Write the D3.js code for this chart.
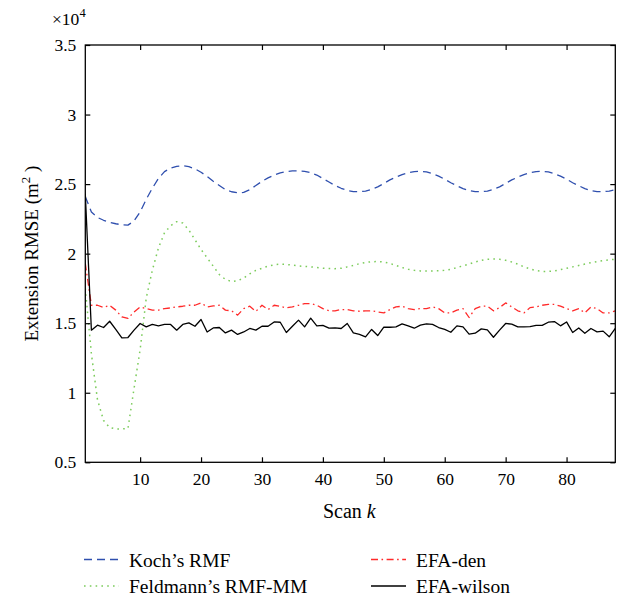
<!DOCTYPE html>
<html>
<head>
<meta charset="utf-8">
<script src="https://cdn.jsdelivr.net/npm/d3@7"></script>
<style>
  html, body { margin: 0; padding: 0; background: #fff; }
  svg { display: block; }
  svg text { font-family: "Liberation Serif", "Times New Roman", Times, "DejaVu Serif", serif !important; fill: #000; }
</style>
</head>
<body>
<svg id="chart" width="618" height="599"></svg>
<script>
// Extension RMSE (in units of 10^4 m^2) per scan k = 1..88
const koch = [2.41,2.30,2.26,2.24,2.225,2.215,2.207,2.205,2.235,2.30,
  2.39,2.47,2.54,2.59,2.615,2.628,2.632,2.625,2.61,2.585,
  2.555,2.52,2.49,2.46,2.445,2.437,2.44,2.46,2.49,2.52,
  2.545,2.565,2.58,2.59,2.595,2.595,2.592,2.582,2.565,2.54,
  2.515,2.49,2.47,2.455,2.446,2.445,2.45,2.462,2.48,2.505,
  2.53,2.55,2.568,2.582,2.59,2.592,2.588,2.575,2.557,2.535,
  2.51,2.488,2.468,2.453,2.446,2.445,2.45,2.462,2.48,2.505,
  2.53,2.55,2.568,2.582,2.59,2.592,2.588,2.575,2.557,2.535,
  2.51,2.488,2.468,2.453,2.446,2.445,2.45,2.46];

const feldmann = [1.75,1.28,0.95,0.80,0.75,0.74,0.74,0.742,1.03,1.31,
  1.68,1.88,2.04,2.15,2.2,2.23,2.22,2.17,2.1,2.03,
  1.97,1.91,1.85,1.815,1.8,1.805,1.825,1.855,1.88,1.895,
  1.91,1.92,1.925,1.922,1.918,1.912,1.908,1.905,1.9,1.895,
  1.893,1.892,1.895,1.905,1.915,1.928,1.937,1.942,1.943,1.94,
  1.93,1.915,1.9,1.888,1.88,1.876,1.875,1.876,1.877,1.88,
  1.888,1.9,1.912,1.925,1.94,1.952,1.96,1.962,1.96,1.952,
  1.94,1.925,1.905,1.89,1.878,1.872,1.872,1.876,1.885,1.895,
  1.905,1.915,1.925,1.935,1.943,1.95,1.955,1.96];

const efaDen = [1.93,1.629,1.629,1.613,1.629,1.594,1.545,1.534,1.581,1.617,
  1.605,1.594,1.594,1.605,1.61,1.617,1.622,1.629,1.629,1.646,
  1.617,1.624,1.629,1.594,1.589,1.558,1.605,1.622,1.585,1.629,
  1.598,1.629,1.622,1.61,1.617,1.629,1.641,1.641,1.629,1.605,
  1.589,1.589,1.598,1.598,1.589,1.586,1.589,1.589,1.581,1.574,
  1.598,1.617,1.622,1.605,1.598,1.605,1.605,1.617,1.605,1.574,
  1.574,1.594,1.605,1.541,1.605,1.622,1.624,1.589,1.612,1.646,
  1.617,1.589,1.574,1.612,1.617,1.629,1.636,1.636,1.622,1.605,
  1.589,1.605,1.574,1.617,1.605,1.574,1.574,1.589];

const efaWilson = [2.43,1.45,1.486,1.469,1.514,1.455,1.394,1.397,1.45,1.498,
  1.474,1.491,1.481,1.491,1.491,1.45,1.491,1.502,1.478,1.527,
  1.437,1.466,1.469,1.43,1.45,1.419,1.437,1.462,1.45,1.478,
  1.478,1.509,1.507,1.433,1.478,1.522,1.474,1.536,1.481,1.484,
  1.464,1.466,1.462,1.498,1.43,1.419,1.402,1.455,1.411,1.471,
  1.471,1.474,1.495,1.481,1.464,1.486,1.495,1.491,1.469,1.455,
  1.435,1.481,1.474,1.421,1.428,1.459,1.452,1.399,1.45,1.498,
  1.493,1.474,1.474,1.476,1.484,1.484,1.507,1.512,1.481,1.509,
  1.433,1.466,1.428,1.462,1.438,1.443,1.402,1.462];

const xTicks = [10, 20, 30, 40, 50, 60, 70, 80];
const yTicks = [0.5, 1, 1.5, 2, 2.5, 3, 3.5];
const yTickLabels = ["0.5", "1", "1.5", "2", "2.5", "3", "3.5"];

const seriesNames = ["Koch\u2019s RMF", "Feldmann\u2019s RMF-MM", "EFA-den", "EFA-wilson"];
const seriesData = [koch, feldmann, efaDen, efaWilson];
const seriesColors = ["#2f4fae", "#7ccc5c", "#ff2a2a", "#000000"];
const seriesDash = ["8,5", "1.6,4.2", "7,3.5,1.6,3.5", null];
const seriesWidth = [1.3, 1.5, 1.3, 1.3];

const serif = "'Liberation Serif', 'Times New Roman', Times, serif";

// ---- layout ----
const svg = d3.select("#chart").attr("font-family", serif);
const plotLeft = 85.3, plotRight = 615.3, plotTop = 45, plotBottom = 462.3;

const x = d3.scaleLinear().domain([1, 88]).range([plotLeft, plotRight]);
const y = d3.scaleLinear().domain([0.5, 3.5]).range([plotBottom, plotTop]);

svg.append("defs").append("clipPath").attr("id", "plotClip")
  .append("rect").attr("x", plotLeft).attr("y", plotTop)
  .attr("width", plotRight - plotLeft).attr("height", plotBottom - plotTop);

// ---- series ----
const line = d3.line()
  .x((d, i) => x(i + 1))
  .y(d => y(d));

const plot = svg.append("g").attr("clip-path", "url(#plotClip)");
seriesData.forEach((vals, s) => {
  plot.append("path")
    .datum(vals)
    .attr("d", line)
    .attr("fill", "none")
    .attr("stroke", seriesColors[s])
    .attr("stroke-width", seriesWidth[s])
    .attr("stroke-dasharray", seriesDash[s])
    .attr("stroke-linejoin", "round");
});

// ---- axes with inward ticks on all four sides ----
const tickLen = 5;
const fontTick = 17.5;

const xAxisB = d3.axisBottom(x).tickValues(xTicks).tickSize(-tickLen).tickPadding(10).tickFormat(d3.format("d"));
const gxB = svg.append("g").attr("transform", `translate(0,${plotBottom})`).call(xAxisB);
const xAxisT = d3.axisTop(x).tickValues(xTicks).tickSize(-tickLen).tickFormat("");
const gxT = svg.append("g").attr("transform", `translate(0,${plotTop})`).call(xAxisT);

const yAxisL = d3.axisLeft(y).tickValues(yTicks).tickSize(-tickLen).tickPadding(9)
  .tickFormat((d, i) => yTickLabels[i]);
const gyL = svg.append("g").attr("transform", `translate(${plotLeft},0)`).call(yAxisL);
const yAxisR = d3.axisRight(y).tickValues(yTicks).tickSize(-tickLen).tickFormat("");
const gyR = svg.append("g").attr("transform", `translate(${plotRight},0)`).call(yAxisR);

[gxB, gxT, gyL, gyR].forEach(g => {
  g.attr("font-family", serif);
  g.select(".domain").remove();
  g.selectAll(".tick line").attr("stroke", "#000").attr("stroke-width", 1.2);
  g.selectAll(".tick text")
    .attr("font-family", serif)
    .attr("font-size", fontTick)
    .attr("fill", "#000");
});
gxB.selectAll(".tick text").attr("dy", "0.71em").attr("y", 10);

// frame
svg.append("rect")
  .attr("x", plotLeft).attr("y", plotTop)
  .attr("width", plotRight - plotLeft).attr("height", plotBottom - plotTop)
  .attr("fill", "none").attr("stroke", "#000").attr("stroke-width", 1.3);

// exponent marker
const expo = svg.append("text").attr("x", 52).attr("y", 25).attr("font-size", 17.5);
expo.append("tspan").text("\u00d710");
expo.append("tspan").attr("font-size", 12.5).attr("dy", -8).text("4");

// axis titles
const xt = svg.append("text")
  .attr("x", (plotLeft + plotRight) / 2 - 1).attr("y", 518)
  .attr("text-anchor", "middle").attr("font-size", 20);
xt.append("tspan").text("Scan ");
xt.append("tspan").attr("font-style", "italic").text("k");

const yt = svg.append("text")
  .attr("transform", `translate(38,${(plotTop + plotBottom) / 2}) rotate(-90)`)
  .attr("text-anchor", "middle").attr("font-size", 19);
yt.append("tspan").text("Extension RMSE (m");
yt.append("tspan").attr("font-size", 13).attr("dy", -8).text("2");
yt.append("tspan").attr("dy", 8).text(" )");

// ---- legend ----
const legendCols = [84, 371];
const legendRows = [559.5, 586];
seriesNames.forEach((name, s) => {
  const col = s < 2 ? 0 : 1;
  const row = s % 2;
  const lx = legendCols[col], ly = legendRows[row];
  svg.append("line")
    .attr("x1", lx).attr("x2", lx + 35)
    .attr("y1", ly).attr("y2", ly)
    .attr("stroke", seriesColors[s])
    .attr("stroke-width", seriesWidth[s])
    .attr("stroke-dasharray", seriesDash[s]);
  svg.append("text")
    .attr("x", lx + 45).attr("y", ly + 7)
    .attr("font-size", 19.5)
    .text(name);
});
</script>
</body>
</html>
